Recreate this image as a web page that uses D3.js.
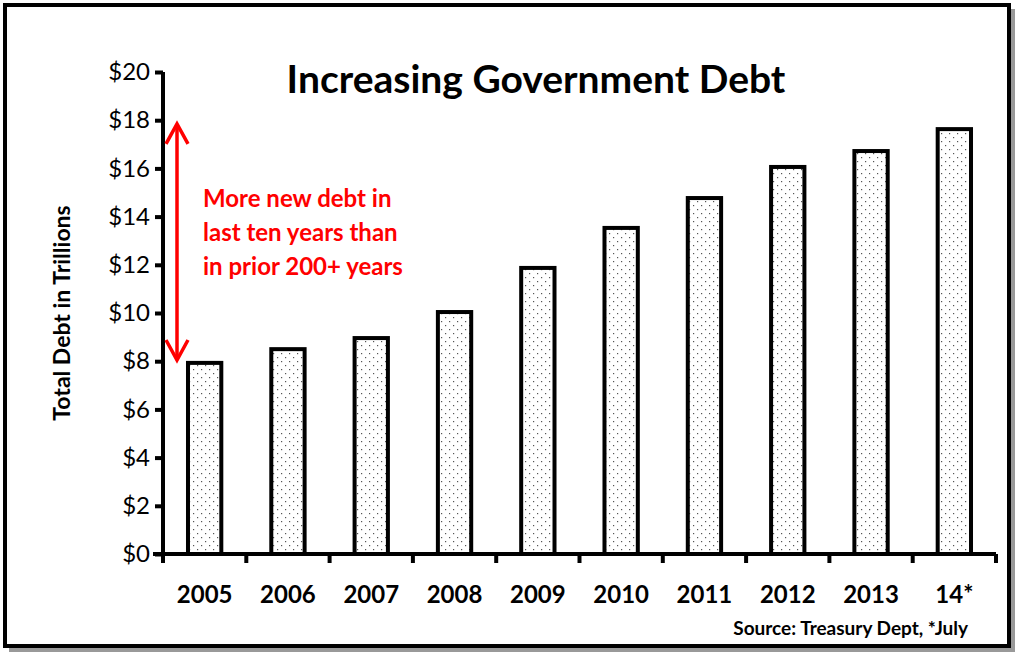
<!DOCTYPE html>
<html><head><meta charset="utf-8">
<script src="https://cdn.jsdelivr.net/npm/d3@7"></script>
<style>body{margin:0;background:#fff}text{font-family:Lato,"Open Sans",sans-serif}</style>
</head><body>
<svg id="chart" width="1024" height="658"></svg>
<script>
const years = ["2005","2006","2007","2008","2009","2010","2011","2012","2013","14*"];
const debt = [7.93, 8.5, 8.96, 10.04, 11.87, 13.53, 14.77, 16.06, 16.72, 17.63];
const yTicks = [0,2,4,6,8,10,12,14,16,18,20];
const noteLines = ["More new debt in", "last ten years than", "in prior 200+ years"];

const svg = d3.select("#chart");
const defs = svg.append("defs");
const pat = defs.append("pattern").attr("id","dots").attr("patternUnits","userSpaceOnUse")
  .attr("width",8).attr("height",8);
pat.append("rect").attr("width",8).attr("height",8).attr("fill","#fff");
pat.append("rect").attr("x",1).attr("y",1).attr("width",1.2).attr("height",1.2).attr("fill","#555");
pat.append("rect").attr("x",5).attr("y",5).attr("width",1.2).attr("height",1.2).attr("fill","#555");

// frame with shadow
svg.append("rect").attr("x",9).attr("y",9).attr("width",1006).attr("height",643).attr("fill","#999");
svg.append("rect").attr("x",5).attr("y",5).attr("width",1004).attr("height",641)
  .attr("fill","#fff").attr("stroke","#000").attr("stroke-width",4);

const x = d3.scaleBand().domain(years).range([163, 996]).paddingInner(0.6).paddingOuter(0.3);
const y = d3.scaleLinear().domain([0, 20]).range([554, 72]);

svg.selectAll(".bar").data(years).join("rect")
  .attr("x", d => x(d)).attr("width", x.bandwidth())
  .attr("y", (d,i) => y(debt[i])).attr("height", (d,i) => y(0) - y(debt[i]))
  .attr("fill","url(#dots)").attr("stroke","#000").attr("stroke-width",4);

const yAxis = svg.append("g").attr("transform","translate(163,0)")
  .call(d3.axisLeft(y).tickValues(yTicks).tickFormat(d => "$" + d).tickSize(8).tickPadding(5));
yAxis.select(".domain").attr("stroke-width",4).attr("d","M0,554V72");
yAxis.selectAll(".tick line").attr("stroke-width",4);
yAxis.selectAll("text").attr("font-size",24).attr("fill","#000");

// x axis with ticks at band boundaries
const xa = svg.append("g");
xa.append("line").attr("x1",153).attr("x2",996).attr("y1",554).attr("y2",554)
  .attr("stroke","#000").attr("stroke-width",4);
const step = x.step();
xa.selectAll(".xt").data(d3.range(years.length + 1)).join("line")
  .attr("x1", i => 163 + i*step).attr("x2", i => 163 + i*step)
  .attr("y1",554).attr("y2",563).attr("stroke","#000").attr("stroke-width",4);
xa.selectAll(".xl").data(years).join("text")
  .attr("x", d => x(d) + x.bandwidth()/2).attr("y",603).attr("text-anchor","middle")
  .attr("font-size",24).attr("font-weight","bold").text(d => d);

svg.append("text").attr("transform","translate(70,313) rotate(-90)").attr("text-anchor","middle")
  .attr("font-size",23).attr("font-weight","bold").text("Total Debt in Trillions");

svg.append("text").attr("x",536).attr("y",93).attr("text-anchor","middle")
  .attr("font-size",39).attr("font-weight","bold").text("Increasing Government Debt");

svg.append("text").attr("x",968).attr("y",635).attr("text-anchor","end")
  .attr("font-size",19).attr("font-weight","bold").text("Source: Treasury Dept, *July");

// red arrow
const ax = 177, ay1 = y(17.85), ay2 = y(8.05);
svg.append("line").attr("x1",ax).attr("x2",ax).attr("y1",ay1+2).attr("y2",ay2-2)
  .attr("stroke","#f00").attr("stroke-width",3.5);
svg.append("path").attr("d",`M${ax-11},${ay1+20}L${ax},${ay1}L${ax+11},${ay1+20}M${ax-11},${ay2-20}L${ax},${ay2}L${ax+11},${ay2-20}`)
  .attr("fill","none").attr("stroke","#f00").attr("stroke-width",3.5);

svg.selectAll(".note").data(noteLines).join("text")
  .attr("x",203).attr("y",(d,i) => 207 + i*34).attr("font-size",24).attr("font-weight","bold")
  .attr("fill","#f00").text(d => d);
</script>
</body></html>
